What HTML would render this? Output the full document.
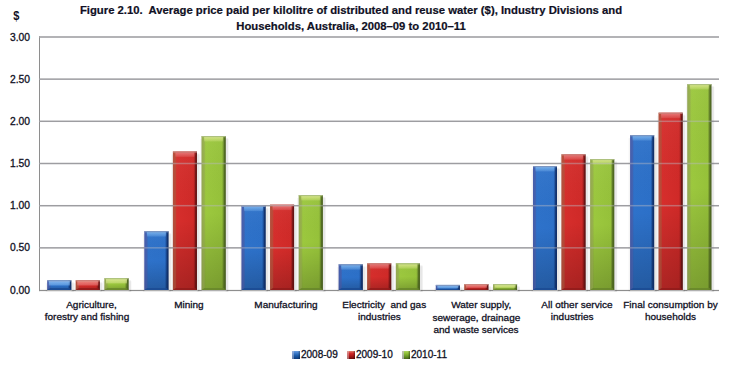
<!DOCTYPE html>
<html><head><meta charset="utf-8"><style>
html,body{margin:0;padding:0;background:#fff;width:729px;height:365px;overflow:hidden;position:relative;font-family:"Liberation Sans",sans-serif;color:#101024}
.t{position:absolute;left:0;width:702px;text-align:center;font-weight:bold;font-size:11.3px;white-space:nowrap;line-height:14px;-webkit-text-stroke:0.2px #101024}
.yl{position:absolute;left:0;width:30px;text-align:right;font-size:10.3px;line-height:13px;-webkit-text-stroke:0.3px #101024}
.cl{position:absolute;width:120px;text-align:center;font-size:10px;line-height:12px;white-space:nowrap;transform:scaleY(0.88);transform-origin:50% 9.5px;-webkit-text-stroke:0.3px #101024}
.lg{position:absolute;top:348px;font-size:10px;line-height:13px;-webkit-text-stroke:0.3px #101024}
.sw{position:absolute;top:351px;width:8px;height:8px}
svg{position:absolute;left:0;top:0}
</style></head><body>
<svg width="729" height="365" viewBox="0 0 729 365">
<defs>
<linearGradient id="fb" x1="0" y1="0" x2="1" y2="0">
 <stop offset="0" stop-color="#4a5aa8"/><stop offset="0.06" stop-color="#3a62b4"/><stop offset="0.16" stop-color="#2e72ca"/><stop offset="0.85" stop-color="#2c70c8"/><stop offset="0.92" stop-color="#1a4c98"/><stop offset="1" stop-color="#0e2c60"/></linearGradient>
<linearGradient id="fr" x1="0" y1="0" x2="1" y2="0">
 <stop offset="0" stop-color="#b05840"/><stop offset="0.1" stop-color="#c04834"/><stop offset="0.16" stop-color="#d62e2c"/><stop offset="0.85" stop-color="#d02a28"/><stop offset="0.92" stop-color="#a01c1c"/><stop offset="1" stop-color="#5a1010"/></linearGradient>
<linearGradient id="fg" x1="0" y1="0" x2="1" y2="0">
 <stop offset="0" stop-color="#90a058"/><stop offset="0.06" stop-color="#94b048"/><stop offset="0.18" stop-color="#9cc83e"/><stop offset="0.85" stop-color="#96c23a"/><stop offset="0.92" stop-color="#6a8a2a"/><stop offset="1" stop-color="#3a4a18"/></linearGradient>
<linearGradient id="tb" x1="0" y1="0" x2="0" y2="1"><stop offset="0" stop-color="#80b8f0" stop-opacity="0.85"/><stop offset="1" stop-color="#80b8f0" stop-opacity="0.25"/></linearGradient>
<linearGradient id="tr" x1="0" y1="0" x2="0" y2="1"><stop offset="0" stop-color="#e88080" stop-opacity="0.85"/><stop offset="1" stop-color="#e88080" stop-opacity="0.25"/></linearGradient>
<linearGradient id="tg" x1="0" y1="0" x2="0" y2="1"><stop offset="0" stop-color="#dce890" stop-opacity="0.85"/><stop offset="1" stop-color="#dce890" stop-opacity="0.25"/></linearGradient>
<linearGradient id="sb" x1="0" y1="0" x2="0" y2="1"><stop offset="0" stop-color="#90c0f4" stop-opacity="0.9"/><stop offset="1" stop-color="#80b8f0" stop-opacity="0.5"/></linearGradient>
<linearGradient id="sr" x1="0" y1="0" x2="0" y2="1"><stop offset="0" stop-color="#f09088" stop-opacity="0.9"/><stop offset="1" stop-color="#e88080" stop-opacity="0.5"/></linearGradient>
<linearGradient id="sg" x1="0" y1="0" x2="0" y2="1"><stop offset="0" stop-color="#e0ec98" stop-opacity="0.9"/><stop offset="1" stop-color="#dce890" stop-opacity="0.5"/></linearGradient>
<linearGradient id="vb" x1="0" y1="0" x2="0" y2="1"><stop offset="0" stop-color="#fff" stop-opacity="0.04"/><stop offset="0.5" stop-color="#000" stop-opacity="0.0"/><stop offset="1" stop-color="#000" stop-opacity="0.2"/></linearGradient>
</defs>
<rect x="39" y="247.18" width="680" height="1.3" fill="#878787"/>
<rect x="39" y="205.02" width="680" height="1.3" fill="#878787"/>
<rect x="39" y="162.85" width="680" height="1.3" fill="#878787"/>
<rect x="39" y="120.68" width="680" height="1.3" fill="#878787"/>
<rect x="39" y="78.52" width="680" height="1.3" fill="#878787"/>
<rect x="39" y="36.35" width="680" height="1.3" fill="#878787"/>
<rect x="39" y="289.9" width="680" height="1.2" fill="#8e8e8e"/>
<rect x="39" y="36.25" width="1" height="254.85" fill="#8e8e8e"/>
<rect x="45.77" y="283.20" width="28.50" height="8.80" fill="#000" opacity="0.045"/>
<rect x="71.27" y="282.20" width="2.5" height="9.80" fill="#000" opacity="0.05"/>
<rect x="47.27" y="290.00" width="25" height="1.2" fill="#fff" opacity="0.35"/>
<rect x="47.27" y="280.20" width="24" height="9.80" fill="url(#fb)"/>
<rect x="47.27" y="280.20" width="24" height="9.80" fill="url(#vb)"/>
<polygon points="47.27,280.20 50.27,284.70 50.27,288.04 47.27,290.00" fill="#4a5eaa" opacity="0.55"/>
<polygon points="71.27,280.20 71.27,290.00 69.67,288.04 69.67,284.70" fill="#12306a" opacity="0.8"/>
<polygon points="47.27,290.00 71.27,290.00 69.67,288.04 50.27,288.04" fill="#1a4a92" opacity="0.8"/>
<rect x="48.77" y="281.00" width="21.00" height="4.50" fill="url(#sb)"/>
<rect x="47.27" y="280.20" width="24" height="1.2" fill="#8a9cc0" opacity="0.85"/>
<rect x="74.27" y="283.20" width="28.50" height="8.80" fill="#000" opacity="0.045"/>
<rect x="99.77" y="282.20" width="2.5" height="9.80" fill="#000" opacity="0.05"/>
<rect x="75.77" y="290.00" width="25" height="1.2" fill="#fff" opacity="0.35"/>
<rect x="75.77" y="280.20" width="24" height="9.80" fill="url(#fr)"/>
<rect x="75.77" y="280.20" width="24" height="9.80" fill="url(#vb)"/>
<polygon points="75.77,280.20 78.77,284.70 78.77,288.04 75.77,290.00" fill="#b44a3a" opacity="0.55"/>
<polygon points="99.77,280.20 99.77,290.00 98.17,288.04 98.17,284.70" fill="#641414" opacity="0.8"/>
<polygon points="75.77,290.00 99.77,290.00 98.17,288.04 78.77,288.04" fill="#901a1a" opacity="0.8"/>
<rect x="77.27" y="281.00" width="21.00" height="4.50" fill="url(#sr)"/>
<rect x="75.77" y="280.20" width="24" height="1.2" fill="#c89088" opacity="0.85"/>
<rect x="102.97" y="281.10" width="28.50" height="10.90" fill="#000" opacity="0.045"/>
<rect x="128.47" y="280.10" width="2.5" height="11.90" fill="#000" opacity="0.05"/>
<rect x="104.47" y="290.00" width="25" height="1.2" fill="#fff" opacity="0.35"/>
<rect x="104.47" y="278.10" width="24" height="11.90" fill="url(#fg)"/>
<rect x="104.47" y="278.10" width="24" height="11.90" fill="url(#vb)"/>
<polygon points="104.47,278.10 107.47,282.60 107.47,288.00 104.47,290.00" fill="#98ac52" opacity="0.55"/>
<polygon points="128.47,278.10 128.47,290.00 126.87,288.00 126.87,282.60" fill="#506a22" opacity="0.8"/>
<polygon points="104.47,290.00 128.47,290.00 126.87,288.00 107.47,288.00" fill="#66842a" opacity="0.8"/>
<rect x="105.97" y="278.90" width="21.00" height="4.50" fill="url(#sg)"/>
<rect x="104.47" y="278.10" width="24" height="1.2" fill="#b0c088" opacity="0.85"/>
<rect x="142.91" y="234.10" width="28.50" height="57.90" fill="#000" opacity="0.045"/>
<rect x="168.41" y="233.10" width="2.5" height="58.90" fill="#000" opacity="0.05"/>
<rect x="144.41" y="290.00" width="25" height="1.2" fill="#fff" opacity="0.35"/>
<rect x="144.41" y="231.10" width="24" height="58.90" fill="url(#fb)"/>
<rect x="144.41" y="231.10" width="24" height="58.90" fill="url(#vb)"/>
<polygon points="144.41,231.10 147.41,235.60 147.41,288.00 144.41,290.00" fill="#4a5eaa" opacity="0.55"/>
<polygon points="168.41,231.10 168.41,290.00 166.81,288.00 166.81,235.60" fill="#12306a" opacity="0.8"/>
<polygon points="144.41,290.00 168.41,290.00 166.81,288.00 147.41,288.00" fill="#1a4a92" opacity="0.8"/>
<rect x="146.91" y="232.10" width="19.00" height="4.50" fill="url(#tb)"/>
<rect x="144.41" y="231.10" width="24" height="1.2" fill="#8a9cc0" opacity="0.85"/>
<rect x="171.41" y="154.40" width="28.50" height="137.60" fill="#000" opacity="0.045"/>
<rect x="196.91" y="153.40" width="2.5" height="138.60" fill="#000" opacity="0.05"/>
<rect x="172.91" y="290.00" width="25" height="1.2" fill="#fff" opacity="0.35"/>
<rect x="172.91" y="151.40" width="24" height="138.60" fill="url(#fr)"/>
<rect x="172.91" y="151.40" width="24" height="138.60" fill="url(#vb)"/>
<polygon points="172.91,151.40 175.91,155.90 175.91,288.00 172.91,290.00" fill="#b44a3a" opacity="0.55"/>
<polygon points="196.91,151.40 196.91,290.00 195.31,288.00 195.31,155.90" fill="#641414" opacity="0.8"/>
<polygon points="172.91,290.00 196.91,290.00 195.31,288.00 175.91,288.00" fill="#901a1a" opacity="0.8"/>
<rect x="175.41" y="152.40" width="19.00" height="4.50" fill="url(#tr)"/>
<rect x="172.91" y="151.40" width="24" height="1.2" fill="#c89088" opacity="0.85"/>
<rect x="200.11" y="139.00" width="28.50" height="153.00" fill="#000" opacity="0.045"/>
<rect x="225.61" y="138.00" width="2.5" height="154.00" fill="#000" opacity="0.05"/>
<rect x="201.61" y="290.00" width="25" height="1.2" fill="#fff" opacity="0.35"/>
<rect x="201.61" y="136.00" width="24" height="154.00" fill="url(#fg)"/>
<rect x="201.61" y="136.00" width="24" height="154.00" fill="url(#vb)"/>
<polygon points="201.61,136.00 204.61,140.50 204.61,288.00 201.61,290.00" fill="#98ac52" opacity="0.55"/>
<polygon points="225.61,136.00 225.61,290.00 224.01,288.00 224.01,140.50" fill="#506a22" opacity="0.8"/>
<polygon points="201.61,290.00 225.61,290.00 224.01,288.00 204.61,288.00" fill="#66842a" opacity="0.8"/>
<rect x="204.11" y="137.00" width="19.00" height="4.50" fill="url(#tg)"/>
<rect x="201.61" y="136.00" width="24" height="1.2" fill="#b0c088" opacity="0.85"/>
<rect x="240.06" y="208.60" width="28.50" height="83.40" fill="#000" opacity="0.045"/>
<rect x="265.56" y="207.60" width="2.5" height="84.40" fill="#000" opacity="0.05"/>
<rect x="241.56" y="290.00" width="25" height="1.2" fill="#fff" opacity="0.35"/>
<rect x="241.56" y="205.60" width="24" height="84.40" fill="url(#fb)"/>
<rect x="241.56" y="205.60" width="24" height="84.40" fill="url(#vb)"/>
<polygon points="241.56,205.60 244.56,210.10 244.56,288.00 241.56,290.00" fill="#4a5eaa" opacity="0.55"/>
<polygon points="265.56,205.60 265.56,290.00 263.96,288.00 263.96,210.10" fill="#12306a" opacity="0.8"/>
<polygon points="241.56,290.00 265.56,290.00 263.96,288.00 244.56,288.00" fill="#1a4a92" opacity="0.8"/>
<rect x="244.06" y="206.60" width="19.00" height="4.50" fill="url(#tb)"/>
<rect x="241.56" y="205.60" width="24" height="1.2" fill="#8a9cc0" opacity="0.85"/>
<rect x="268.56" y="207.60" width="28.50" height="84.40" fill="#000" opacity="0.045"/>
<rect x="294.06" y="206.60" width="2.5" height="85.40" fill="#000" opacity="0.05"/>
<rect x="270.06" y="290.00" width="25" height="1.2" fill="#fff" opacity="0.35"/>
<rect x="270.06" y="204.60" width="24" height="85.40" fill="url(#fr)"/>
<rect x="270.06" y="204.60" width="24" height="85.40" fill="url(#vb)"/>
<polygon points="270.06,204.60 273.06,209.10 273.06,288.00 270.06,290.00" fill="#b44a3a" opacity="0.55"/>
<polygon points="294.06,204.60 294.06,290.00 292.46,288.00 292.46,209.10" fill="#641414" opacity="0.8"/>
<polygon points="270.06,290.00 294.06,290.00 292.46,288.00 273.06,288.00" fill="#901a1a" opacity="0.8"/>
<rect x="272.56" y="205.60" width="19.00" height="4.50" fill="url(#tr)"/>
<rect x="270.06" y="204.60" width="24" height="1.2" fill="#c89088" opacity="0.85"/>
<rect x="297.26" y="198.00" width="28.50" height="94.00" fill="#000" opacity="0.045"/>
<rect x="322.76" y="197.00" width="2.5" height="95.00" fill="#000" opacity="0.05"/>
<rect x="298.76" y="290.00" width="25" height="1.2" fill="#fff" opacity="0.35"/>
<rect x="298.76" y="195.00" width="24" height="95.00" fill="url(#fg)"/>
<rect x="298.76" y="195.00" width="24" height="95.00" fill="url(#vb)"/>
<polygon points="298.76,195.00 301.76,199.50 301.76,288.00 298.76,290.00" fill="#98ac52" opacity="0.55"/>
<polygon points="322.76,195.00 322.76,290.00 321.16,288.00 321.16,199.50" fill="#506a22" opacity="0.8"/>
<polygon points="298.76,290.00 322.76,290.00 321.16,288.00 301.76,288.00" fill="#66842a" opacity="0.8"/>
<rect x="301.26" y="196.00" width="19.00" height="4.50" fill="url(#tg)"/>
<rect x="298.76" y="195.00" width="24" height="1.2" fill="#b0c088" opacity="0.85"/>
<rect x="337.20" y="267.20" width="28.50" height="24.80" fill="#000" opacity="0.045"/>
<rect x="362.70" y="266.20" width="2.5" height="25.80" fill="#000" opacity="0.05"/>
<rect x="338.70" y="290.00" width="25" height="1.2" fill="#fff" opacity="0.35"/>
<rect x="338.70" y="264.20" width="24" height="25.80" fill="url(#fb)"/>
<rect x="338.70" y="264.20" width="24" height="25.80" fill="url(#vb)"/>
<polygon points="338.70,264.20 341.70,268.70 341.70,288.00 338.70,290.00" fill="#4a5eaa" opacity="0.55"/>
<polygon points="362.70,264.20 362.70,290.00 361.10,288.00 361.10,268.70" fill="#12306a" opacity="0.8"/>
<polygon points="338.70,290.00 362.70,290.00 361.10,288.00 341.70,288.00" fill="#1a4a92" opacity="0.8"/>
<rect x="341.20" y="265.20" width="19.00" height="4.50" fill="url(#tb)"/>
<rect x="338.70" y="264.20" width="24" height="1.2" fill="#8a9cc0" opacity="0.85"/>
<rect x="365.70" y="266.20" width="28.50" height="25.80" fill="#000" opacity="0.045"/>
<rect x="391.20" y="265.20" width="2.5" height="26.80" fill="#000" opacity="0.05"/>
<rect x="367.20" y="290.00" width="25" height="1.2" fill="#fff" opacity="0.35"/>
<rect x="367.20" y="263.20" width="24" height="26.80" fill="url(#fr)"/>
<rect x="367.20" y="263.20" width="24" height="26.80" fill="url(#vb)"/>
<polygon points="367.20,263.20 370.20,267.70 370.20,288.00 367.20,290.00" fill="#b44a3a" opacity="0.55"/>
<polygon points="391.20,263.20 391.20,290.00 389.60,288.00 389.60,267.70" fill="#641414" opacity="0.8"/>
<polygon points="367.20,290.00 391.20,290.00 389.60,288.00 370.20,288.00" fill="#901a1a" opacity="0.8"/>
<rect x="369.70" y="264.20" width="19.00" height="4.50" fill="url(#tr)"/>
<rect x="367.20" y="263.20" width="24" height="1.2" fill="#c89088" opacity="0.85"/>
<rect x="394.40" y="266.20" width="28.50" height="25.80" fill="#000" opacity="0.045"/>
<rect x="419.90" y="265.20" width="2.5" height="26.80" fill="#000" opacity="0.05"/>
<rect x="395.90" y="290.00" width="25" height="1.2" fill="#fff" opacity="0.35"/>
<rect x="395.90" y="263.20" width="24" height="26.80" fill="url(#fg)"/>
<rect x="395.90" y="263.20" width="24" height="26.80" fill="url(#vb)"/>
<polygon points="395.90,263.20 398.90,267.70 398.90,288.00 395.90,290.00" fill="#98ac52" opacity="0.55"/>
<polygon points="419.90,263.20 419.90,290.00 418.30,288.00 418.30,267.70" fill="#506a22" opacity="0.8"/>
<polygon points="395.90,290.00 419.90,290.00 418.30,288.00 398.90,288.00" fill="#66842a" opacity="0.8"/>
<rect x="398.40" y="264.20" width="19.00" height="4.50" fill="url(#tg)"/>
<rect x="395.90" y="263.20" width="24" height="1.2" fill="#b0c088" opacity="0.85"/>
<rect x="434.34" y="287.90" width="28.50" height="4.10" fill="#000" opacity="0.045"/>
<rect x="459.84" y="286.90" width="2.5" height="5.10" fill="#000" opacity="0.05"/>
<rect x="435.84" y="290.00" width="25" height="1.2" fill="#fff" opacity="0.35"/>
<rect x="435.84" y="284.90" width="24" height="5.10" fill="url(#fb)"/>
<rect x="435.84" y="284.90" width="24" height="5.10" fill="url(#vb)"/>
<polygon points="435.84,284.90 438.84,287.45 438.84,288.98 435.84,290.00" fill="#4a5eaa" opacity="0.55"/>
<polygon points="459.84,284.90 459.84,290.00 458.24,288.98 458.24,287.45" fill="#12306a" opacity="0.8"/>
<polygon points="435.84,290.00 459.84,290.00 458.24,288.98 438.84,288.98" fill="#1a4a92" opacity="0.8"/>
<rect x="437.34" y="285.70" width="21.00" height="2.55" fill="url(#sb)"/>
<rect x="435.84" y="284.90" width="24" height="1.2" fill="#8a9cc0" opacity="0.85"/>
<rect x="462.84" y="287.05" width="28.50" height="4.95" fill="#000" opacity="0.045"/>
<rect x="488.34" y="286.05" width="2.5" height="5.95" fill="#000" opacity="0.05"/>
<rect x="464.34" y="290.00" width="25" height="1.2" fill="#fff" opacity="0.35"/>
<rect x="464.34" y="284.05" width="24" height="5.95" fill="url(#fr)"/>
<rect x="464.34" y="284.05" width="24" height="5.95" fill="url(#vb)"/>
<polygon points="464.34,284.05 467.34,287.02 467.34,288.81 464.34,290.00" fill="#b44a3a" opacity="0.55"/>
<polygon points="488.34,284.05 488.34,290.00 486.74,288.81 486.74,287.02" fill="#641414" opacity="0.8"/>
<polygon points="464.34,290.00 488.34,290.00 486.74,288.81 467.34,288.81" fill="#901a1a" opacity="0.8"/>
<rect x="465.84" y="284.85" width="21.00" height="2.97" fill="url(#sr)"/>
<rect x="464.34" y="284.05" width="24" height="1.2" fill="#c89088" opacity="0.85"/>
<rect x="491.54" y="287.05" width="28.50" height="4.95" fill="#000" opacity="0.045"/>
<rect x="517.04" y="286.05" width="2.5" height="5.95" fill="#000" opacity="0.05"/>
<rect x="493.04" y="290.00" width="25" height="1.2" fill="#fff" opacity="0.35"/>
<rect x="493.04" y="284.05" width="24" height="5.95" fill="url(#fg)"/>
<rect x="493.04" y="284.05" width="24" height="5.95" fill="url(#vb)"/>
<polygon points="493.04,284.05 496.04,287.02 496.04,288.81 493.04,290.00" fill="#98ac52" opacity="0.55"/>
<polygon points="517.04,284.05 517.04,290.00 515.44,288.81 515.44,287.02" fill="#506a22" opacity="0.8"/>
<polygon points="493.04,290.00 517.04,290.00 515.44,288.81 496.04,288.81" fill="#66842a" opacity="0.8"/>
<rect x="494.54" y="284.85" width="21.00" height="2.97" fill="url(#sg)"/>
<rect x="493.04" y="284.05" width="24" height="1.2" fill="#b0c088" opacity="0.85"/>
<rect x="531.49" y="169.00" width="28.50" height="123.00" fill="#000" opacity="0.045"/>
<rect x="556.99" y="168.00" width="2.5" height="124.00" fill="#000" opacity="0.05"/>
<rect x="532.99" y="290.00" width="25" height="1.2" fill="#fff" opacity="0.35"/>
<rect x="532.99" y="166.00" width="24" height="124.00" fill="url(#fb)"/>
<rect x="532.99" y="166.00" width="24" height="124.00" fill="url(#vb)"/>
<polygon points="532.99,166.00 535.99,170.50 535.99,288.00 532.99,290.00" fill="#4a5eaa" opacity="0.55"/>
<polygon points="556.99,166.00 556.99,290.00 555.39,288.00 555.39,170.50" fill="#12306a" opacity="0.8"/>
<polygon points="532.99,290.00 556.99,290.00 555.39,288.00 535.99,288.00" fill="#1a4a92" opacity="0.8"/>
<rect x="535.49" y="167.00" width="19.00" height="4.50" fill="url(#tb)"/>
<rect x="532.99" y="166.00" width="24" height="1.2" fill="#8a9cc0" opacity="0.85"/>
<rect x="559.99" y="157.20" width="28.50" height="134.80" fill="#000" opacity="0.045"/>
<rect x="585.49" y="156.20" width="2.5" height="135.80" fill="#000" opacity="0.05"/>
<rect x="561.49" y="290.00" width="25" height="1.2" fill="#fff" opacity="0.35"/>
<rect x="561.49" y="154.20" width="24" height="135.80" fill="url(#fr)"/>
<rect x="561.49" y="154.20" width="24" height="135.80" fill="url(#vb)"/>
<polygon points="561.49,154.20 564.49,158.70 564.49,288.00 561.49,290.00" fill="#b44a3a" opacity="0.55"/>
<polygon points="585.49,154.20 585.49,290.00 583.89,288.00 583.89,158.70" fill="#641414" opacity="0.8"/>
<polygon points="561.49,290.00 585.49,290.00 583.89,288.00 564.49,288.00" fill="#901a1a" opacity="0.8"/>
<rect x="563.99" y="155.20" width="19.00" height="4.50" fill="url(#tr)"/>
<rect x="561.49" y="154.20" width="24" height="1.2" fill="#c89088" opacity="0.85"/>
<rect x="588.69" y="162.00" width="28.50" height="130.00" fill="#000" opacity="0.045"/>
<rect x="614.19" y="161.00" width="2.5" height="131.00" fill="#000" opacity="0.05"/>
<rect x="590.19" y="290.00" width="25" height="1.2" fill="#fff" opacity="0.35"/>
<rect x="590.19" y="159.00" width="24" height="131.00" fill="url(#fg)"/>
<rect x="590.19" y="159.00" width="24" height="131.00" fill="url(#vb)"/>
<polygon points="590.19,159.00 593.19,163.50 593.19,288.00 590.19,290.00" fill="#98ac52" opacity="0.55"/>
<polygon points="614.19,159.00 614.19,290.00 612.59,288.00 612.59,163.50" fill="#506a22" opacity="0.8"/>
<polygon points="590.19,290.00 614.19,290.00 612.59,288.00 593.19,288.00" fill="#66842a" opacity="0.8"/>
<rect x="592.69" y="160.00" width="19.00" height="4.50" fill="url(#tg)"/>
<rect x="590.19" y="159.00" width="24" height="1.2" fill="#b0c088" opacity="0.85"/>
<rect x="628.63" y="138.10" width="28.50" height="153.90" fill="#000" opacity="0.045"/>
<rect x="654.13" y="137.10" width="2.5" height="154.90" fill="#000" opacity="0.05"/>
<rect x="630.13" y="290.00" width="25" height="1.2" fill="#fff" opacity="0.35"/>
<rect x="630.13" y="135.10" width="24" height="154.90" fill="url(#fb)"/>
<rect x="630.13" y="135.10" width="24" height="154.90" fill="url(#vb)"/>
<polygon points="630.13,135.10 633.13,139.60 633.13,288.00 630.13,290.00" fill="#4a5eaa" opacity="0.55"/>
<polygon points="654.13,135.10 654.13,290.00 652.53,288.00 652.53,139.60" fill="#12306a" opacity="0.8"/>
<polygon points="630.13,290.00 654.13,290.00 652.53,288.00 633.13,288.00" fill="#1a4a92" opacity="0.8"/>
<rect x="632.63" y="136.10" width="19.00" height="4.50" fill="url(#tb)"/>
<rect x="630.13" y="135.10" width="24" height="1.2" fill="#8a9cc0" opacity="0.85"/>
<rect x="657.13" y="115.60" width="28.50" height="176.40" fill="#000" opacity="0.045"/>
<rect x="682.63" y="114.60" width="2.5" height="177.40" fill="#000" opacity="0.05"/>
<rect x="658.63" y="290.00" width="25" height="1.2" fill="#fff" opacity="0.35"/>
<rect x="658.63" y="112.60" width="24" height="177.40" fill="url(#fr)"/>
<rect x="658.63" y="112.60" width="24" height="177.40" fill="url(#vb)"/>
<polygon points="658.63,112.60 661.63,117.10 661.63,288.00 658.63,290.00" fill="#b44a3a" opacity="0.55"/>
<polygon points="682.63,112.60 682.63,290.00 681.03,288.00 681.03,117.10" fill="#641414" opacity="0.8"/>
<polygon points="658.63,290.00 682.63,290.00 681.03,288.00 661.63,288.00" fill="#901a1a" opacity="0.8"/>
<rect x="661.13" y="113.60" width="19.00" height="4.50" fill="url(#tr)"/>
<rect x="658.63" y="112.60" width="24" height="1.2" fill="#c89088" opacity="0.85"/>
<rect x="685.83" y="87.00" width="28.50" height="205.00" fill="#000" opacity="0.045"/>
<rect x="711.33" y="86.00" width="2.5" height="206.00" fill="#000" opacity="0.05"/>
<rect x="687.33" y="290.00" width="25" height="1.2" fill="#fff" opacity="0.35"/>
<rect x="687.33" y="84.00" width="24" height="206.00" fill="url(#fg)"/>
<rect x="687.33" y="84.00" width="24" height="206.00" fill="url(#vb)"/>
<polygon points="687.33,84.00 690.33,88.50 690.33,288.00 687.33,290.00" fill="#98ac52" opacity="0.55"/>
<polygon points="711.33,84.00 711.33,290.00 709.73,288.00 709.73,88.50" fill="#506a22" opacity="0.8"/>
<polygon points="687.33,290.00 711.33,290.00 709.73,288.00 690.33,288.00" fill="#66842a" opacity="0.8"/>
<rect x="689.83" y="85.00" width="19.00" height="4.50" fill="url(#tg)"/>
<rect x="687.33" y="84.00" width="24" height="1.2" fill="#b0c088" opacity="0.85"/>
<rect x="39" y="247.08" width="680" height="1.5" fill="#b8b8c0" opacity="0.45"/>
<rect x="39" y="204.92" width="680" height="1.5" fill="#b8b8c0" opacity="0.45"/>
<rect x="39" y="162.75" width="680" height="1.5" fill="#b8b8c0" opacity="0.45"/>
<rect x="39" y="120.58" width="680" height="1.5" fill="#b8b8c0" opacity="0.45"/>
<rect x="39" y="78.42" width="680" height="1.5" fill="#b8b8c0" opacity="0.45"/>
<rect x="39" y="36.25" width="680" height="1.5" fill="#b8b8c0" opacity="0.45"/>
</svg>
<div class="t" style="top:3px">Figure 2.10.&nbsp; Average price paid per kilolitre of distributed and reuse water ($), Industry Divisions and</div>
<div class="t" style="top:19px">Households, Australia, 2008–09 to 2010–11</div>
<div style="position:absolute;left:13.2px;top:9px;font-weight:bold;font-size:11px;line-height:14px;transform:scaleY(1.08);transform-origin:0 10px">$</div>
<div class="yl" style="top:30.5px">3.00</div>
<div class="yl" style="top:72.7px">2.50</div>
<div class="yl" style="top:114.8px">2.00</div>
<div class="yl" style="top:157.0px">1.50</div>
<div class="yl" style="top:199.2px">1.00</div>
<div class="yl" style="top:241.3px">0.50</div>
<div class="yl" style="top:283.5px">0.00</div>
<div class="cl" style="left:31.5px;top:298.8px">Agriculture,</div>
<div class="cl" style="left:27.0px;top:311.3px">forestry and fishing</div>
<div class="cl" style="left:128.9px;top:298.5px">Mining</div>
<div class="cl" style="left:226.0px;top:298.5px">Manufacturing</div>
<div class="cl" style="left:324.2px;top:298.5px">Electricity&nbsp; and gas</div>
<div class="cl" style="left:319.4px;top:311.3px">industries</div>
<div class="cl" style="left:421.2px;top:298.5px">Water supply,</div>
<div class="cl" style="left:416.4px;top:311.5px">sewerage, drainage</div>
<div class="cl" style="left:416.0px;top:323.9px">and waste services</div>
<div class="cl" style="left:516.9px;top:298.5px">All other service</div>
<div class="cl" style="left:512.2px;top:311.3px">industries</div>
<div class="cl" style="left:610.5px;top:298.5px">Final consumption by</div>
<div class="cl" style="left:610.5px;top:311.3px">households</div>
<div class="sw" style="left:292px;background:linear-gradient(90deg,rgba(200,200,220,0.55) 0,rgba(200,200,220,0.4) 2px,transparent 2px,transparent 6px,rgba(0,0,0,0.35) 8px),linear-gradient(180deg,#6a9ee0 0,#3a78c8 30%,#1a5aa8 60%,#0e3a7a 100%)"></div>
<div class="lg" style="left:301px">2008-09</div>
<div class="sw" style="left:347px;background:linear-gradient(90deg,rgba(220,190,190,0.6) 0,rgba(220,190,190,0.45) 2px,transparent 2px,transparent 6px,rgba(0,0,0,0.4) 8px),linear-gradient(180deg,#e08070 0,#d02828 30%,#b01818 60%,#6a0c0c 100%)"></div>
<div class="lg" style="left:356px">2009-10</div>
<div class="sw" style="left:402px;background:linear-gradient(90deg,rgba(200,190,215,0.75) 0,rgba(200,190,215,0.6) 2px,transparent 2px,transparent 6px,rgba(0,0,0,0.45) 8px),linear-gradient(180deg,#b0d860 0,#90c038 30%,#70a028 60%,#48661a 100%)"></div>
<div class="lg" style="left:411px">2010-11</div>
</body></html>
